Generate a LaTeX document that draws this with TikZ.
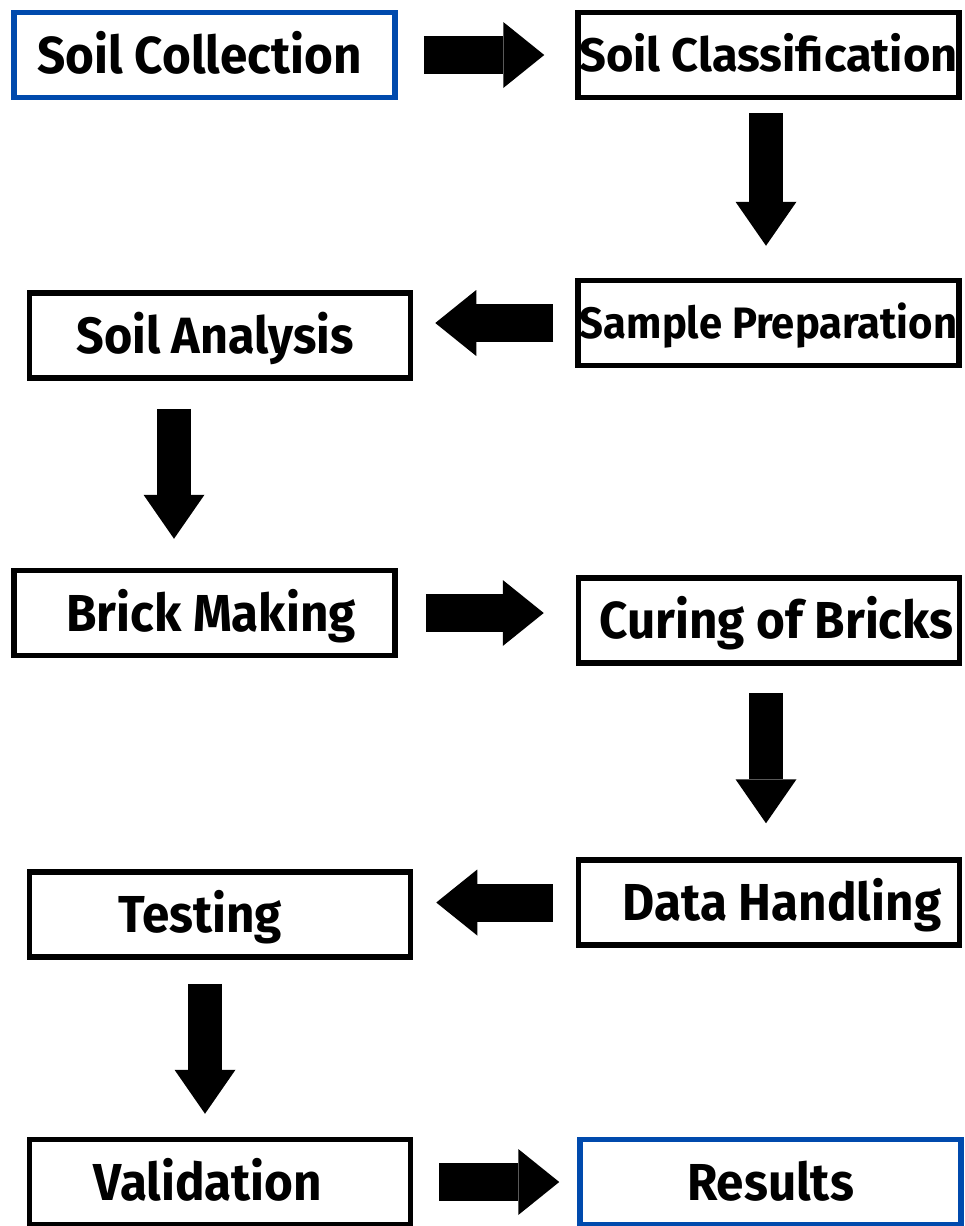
\documentclass[tikz,border=0pt]{standalone}
\usepackage{fontspec}
\setmainfont{Fira Sans}
\newfontfamily\stepfont[FakeStretch=0.95]{Fira Sans}
\usepackage{xcolor}
\usetikzlibrary{arrows.meta,positioning,calc}
\definecolor{boxblue}{RGB}{0,74,173}

\begin{document}
\begin{tikzpicture}[x=1pt,y=-1pt]
        \tikzstyle{stepbox}=[draw,line width=5.5pt,minimum width=381pt,minimum height=85pt,inner sep=0pt,
            font=\stepfont\bfseries\fontsize{52}{52}\selectfont,text height=36pt,text depth=0pt]
        \tikzstyle{hflow}=[line width=38pt,-{Triangle[length=41pt,width=66pt,line width=0pt]}]
        \tikzstyle{vflow}=[line width=34pt,-{Triangle[length=44pt,width=61pt,line width=0pt]}]
        \useasboundingbox (0,0) rectangle (964,1226);
        % Draw the steps as boxes
        \node (coll)[stepbox,draw=boxblue] at (204.5,55) {Soil Collection\hspace*{10pt}};
        \node (class)[stepbox,font=\bfseries\fontsize{47}{47}\selectfont,text height=32pt] at (768.5,55) {Soil Classification};
        \node (samp)[stepbox,font=\stepfont\bfseries\fontsize{44}{44}\selectfont,text height=30pt] at (768.5,323) {Sample Preparation};
        \node (anal)[stepbox,font=\stepfont\bfseries\fontsize{51}{51}\selectfont,text height=35pt] at (220,335.5) {Soil Analysis\hspace*{10pt}};
        \node (brick)[stepbox] at (204.5,613) {\hspace*{13pt}Brick Making};
        \node (cur)[stepbox] at (769,620.5) {\hspace*{15pt}Curing of Bricks};
        \node (data)[stepbox] at (769,902.5) {\hspace*{26pt}Data Handling};
        \node (test)[stepbox] at (220,914.5) {Testing\hspace*{40pt}};
        \node (valid)[stepbox] at (220,1182) {Validation\hspace*{24pt}};
        \node (res)[stepbox,draw=boxblue] at (770.5,1182) {Results};
        % Block arrows between the steps
        \draw[hflow,shorten <=26pt,shorten >=31pt] (coll.east) -- (class.west);
        \draw[vflow,shorten <=13pt,shorten >=32pt] ([xshift=-2.5pt]class.south) -- ([xshift=-2.5pt]samp.north);
        \draw[hflow,shorten <=22pt,shorten >=22pt] (samp.west) -- (samp.west -| anal.east);
        \draw[vflow,shorten <=28pt,shorten >=29pt] ([xshift=-46pt]anal.south) -- ([xshift=-46pt]anal.south |- brick.north);
        \draw[hflow,shorten <=28pt,shorten >=32pt] (brick.east) -- (brick.east -| cur.west);
        \draw[vflow,shorten <=27pt,shorten >=34pt] ([xshift=-3pt]cur.south) -- ([xshift=-3pt]data.north);
        \draw[hflow,shorten <=23pt,shorten >=23pt] (data.west) -- (data.west -| test.east);
        \draw[vflow,shorten <=24pt,shorten >=23pt] ([xshift=-15pt]test.south) -- ([xshift=-15pt]test.south |- valid.north);
        \draw[hflow,shorten <=26pt,shorten >=18pt] (valid.east) -- (valid.east -| res.west);
    \end{tikzpicture}
\end{document}
